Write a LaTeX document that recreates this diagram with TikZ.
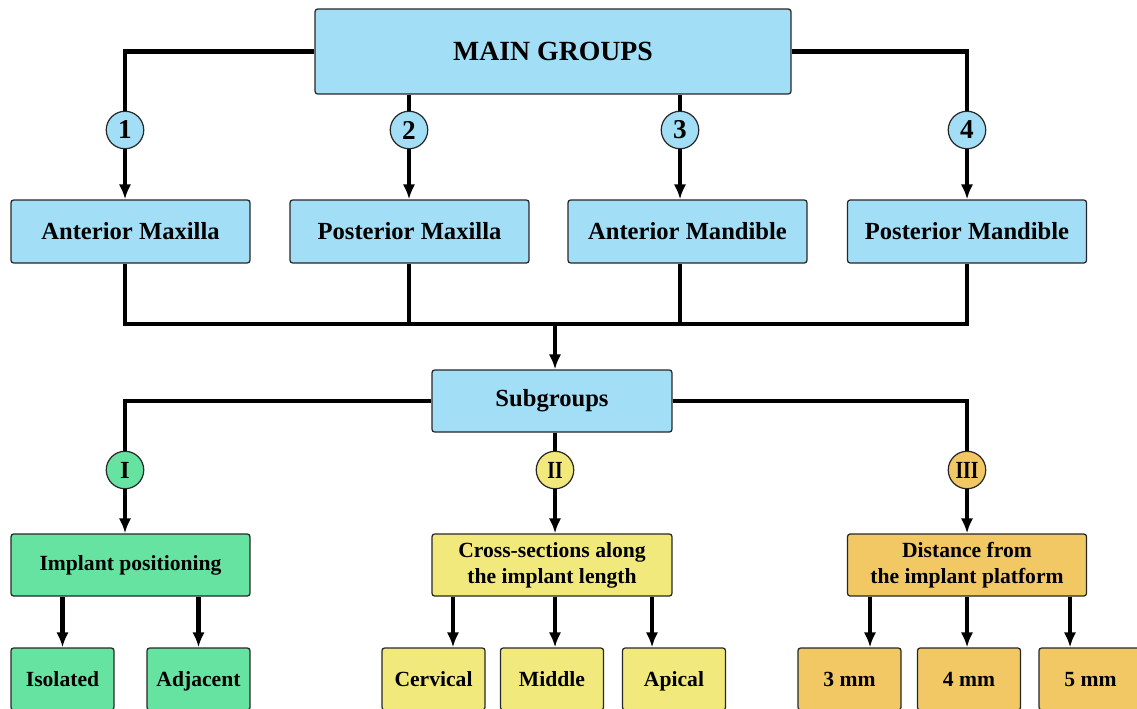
\documentclass[tikz,border=0pt]{standalone}
\usepackage{fontspec}
\setmainfont{Liberation Serif}
\usetikzlibrary{arrows.meta}
\definecolor{grpblue}{HTML}{A2DFF7}
\definecolor{grpgreen}{HTML}{66E3A1}
\definecolor{grpyellow}{HTML}{F2E97C}
\definecolor{grporange}{HTML}{F2C865}
\tikzset{
  box/.style={draw=black!85, line width=0.7pt, rounded corners=1.5pt, align=center, inner sep=0pt,
    minimum width=4.78cm, minimum height=1.26cm, font=\bfseries\fontsize{14}{16}\selectfont},
  subbox/.style={box, minimum height=1.24cm, font=\bfseries\fontsize{12.3}{14.7}\selectfont},
  leaf/.style={subbox, minimum width=2.06cm, text height=8.5pt, text depth=0.5pt},
  num/.style={circle, draw=black!85, line width=0.7pt, minimum size=0.75cm, inner sep=0pt,
    font=\bfseries\fontsize{15.5}{17}\selectfont},
  roman/.style={num, font=\bfseries\fontsize{14}{16}\selectfont},
  link/.style={line width=2.3pt},
  arr/.style={link, -{Latex[length=8.5pt,width=7pt]}},
}
\newcommand{\narrow}[1]{\scalebox{0.8}[1]{#1}}
\begin{document}
\begin{tikzpicture}[x=0.02cm,y=-0.02cm]
  \useasboundingbox (0,0) rectangle (1137,708);
  \clip (0,0) rectangle (1137,708);
  % main groups
  \node[box, fill=grpblue, minimum width=9.52cm, minimum height=1.7cm,
    font=\bfseries\fontsize{15.8}{18}\selectfont] (main) at (553,51.5) {MAIN GROUPS};
  \node[num, fill=grpblue] (c1) at (125,130) {1};
  \node[num, fill=grpblue] (c2) at (409,130) {2};
  \node[num, fill=grpblue] (c3) at (680,130) {3};
  \node[num, fill=grpblue] (c4) at (967,130) {4};
  \node[box, fill=grpblue] (amax) at (130.5,231.5) {Anterior Maxilla};
  \node[box, fill=grpblue] (pmax) at (409.5,231.5) {Posterior Maxilla};
  \node[box, fill=grpblue] (amand) at (687.5,231.5) {Anterior Mandible};
  \node[box, fill=grpblue] (pmand) at (967,231.5) {Posterior Mandible};
  \draw[link] (main.west) -| (c1);
  \draw[link] (main.east) -| (c4);
  \draw[link] (main.south -| c2) -- (c2);
  \draw[link] (main.south -| c3) -- (c3);
  \draw[arr] (c1) -- (c1 |- amax.north);
  \draw[arr] (c2) -- (c2 |- pmax.north);
  \draw[arr] (c3) -- (c3 |- amand.north);
  \draw[arr] (c4) -- (c4 |- pmand.north);
  % collecting line
  \coordinate (bus) at (555,324);
  \node[box, fill=grpblue, minimum width=4.8cm, minimum height=1.24cm] (sub) at (552,401) {Subgroups};
  \draw[link] (c1 |- amax.south) -- (c1 |- bus) -- (c4 |- bus) -- (c4 |- pmand.south);
  \draw[link] (c2 |- pmax.south) -- (c2 |- bus);
  \draw[link] (c3 |- amand.south) -- (c3 |- bus);
  \draw[arr] (bus) -- (bus |- sub.north);
  % subgroups
  \node[roman, fill=grpgreen] (r1) at (125,470) {I};
  \node[roman, fill=grpyellow] (r2) at (555,470) {\narrow{II}};
  \node[roman, fill=grporange] (r3) at (967,470) {\narrow{III}};
  \node[subbox, fill=grpgreen] (impl) at (130.5,565) {Implant positioning};
  \node[subbox, fill=grpyellow, minimum width=4.8cm] (cross) at (552,565) {Cross-sections along\\the implant length};
  \node[subbox, fill=grporange] (dist) at (967,565) {Distance from\\the implant platform};
  \draw[link] (sub.west) -| (r1);
  \draw[link] (sub.east) -| (r3);
  \draw[link] (sub.south -| r2) -- (r2);
  \draw[arr] (r1) -- (r1 |- impl.north);
  \draw[arr] (r2) -- (r2 |- cross.north);
  \draw[arr] (r3) -- (r3 |- dist.north);
  % leaves
  \node[leaf, fill=grpgreen] (iso) at (62.5,679) {Isolated};
  \node[leaf, fill=grpgreen] (adj) at (198.5,679) {Adjacent};
  \node[leaf, fill=grpyellow] (cerv) at (433.5,679) {Cervical};
  \node[leaf, fill=grpyellow] (mid) at (552,679) {Middle};
  \node[leaf, fill=grpyellow] (apic) at (674,679) {Apical};
  \node[leaf, fill=grporange] (mm3) at (849.5,679) {3 mm};
  \node[leaf, fill=grporange] (mm4) at (969,679) {4 mm};
  \node[leaf, fill=grporange] (mm5) at (1090.5,679) {5 mm};
  \draw[arr] (iso.north |- impl.south) -- (iso.north);
  \draw[arr] (adj.north |- impl.south) -- (adj.north);
  \draw[arr] ([xshift=0.39cm]cerv.north |- cross.south) -- ([xshift=0.39cm]cerv.north);
  \draw[arr] ([xshift=0.06cm]mid.north |- cross.south) -- ([xshift=0.06cm]mid.north);
  \draw[arr] ([xshift=-0.44cm]apic.north |- cross.south) -- ([xshift=-0.44cm]apic.north);
  \draw[arr] ([xshift=0.41cm]mm3.north |- dist.south) -- ([xshift=0.41cm]mm3.north);
  \draw[arr] ([xshift=-0.04cm]mm4.north |- dist.south) -- ([xshift=-0.04cm]mm4.north);
  \draw[arr] ([xshift=-0.41cm]mm5.north |- dist.south) -- ([xshift=-0.41cm]mm5.north);
\end{tikzpicture}
\end{document}
